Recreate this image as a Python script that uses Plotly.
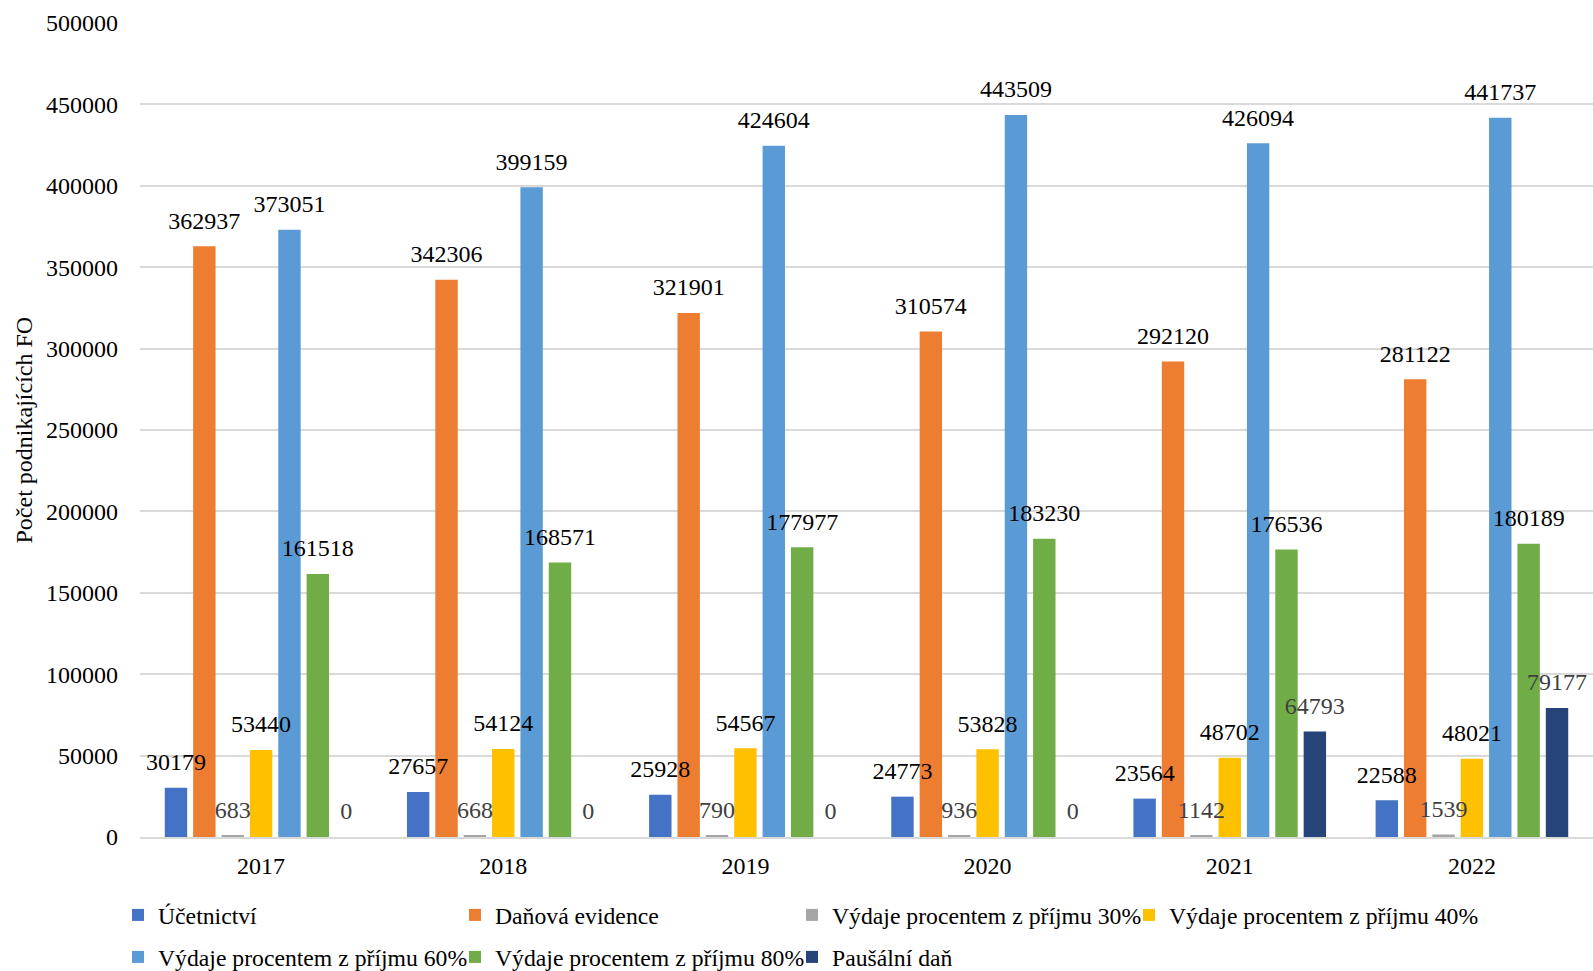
import plotly.graph_objects as go

years = ["2017", "2018", "2019", "2020", "2021", "2022"]
series_names = [
    "Účetnictví",
    "Daňová evidence",
    "Výdaje procentem z příjmu 30%",
    "Výdaje procentem z příjmu 40%",
    "Výdaje procentem z příjmu 60%",
    "Výdaje procentem z příjmu 80%",
    "Paušální daň",
]
ucetnictvi = [30179, 27657, 25928, 24773, 23564, 22588]
danova_evidence = [362937, 342306, 321901, 310574, 292120, 281122]
vydaje30 = [683, 668, 790, 936, 1142, 1539]
vydaje40 = [53440, 54124, 54567, 53828, 48702, 48021]
vydaje60 = [373051, 399159, 424604, 443509, 426094, 441737]
vydaje80 = [161518, 168571, 177977, 183230, 176536, 180189]
pausalni = [0, 0, 0, 0, 64793, 79177]

values = [ucetnictvi, danova_evidence, vydaje30, vydaje40, vydaje60, vydaje80, pausalni]
colors = ["#4472C4", "#ED7D31", "#A5A5A5", "#FFC000", "#5B9BD5", "#70AD47", "#264478"]
label_colors = ["#000000", "#000000", "#404040", "#000000", "#000000", "#000000", "#404040"]

FONT = "Liberation Serif"
GAP = 0.18
W, H = 1593, 971
ML, MR, MT, MB = 140, 0, 23, 134
PW, PH = W - ML - MR, H - MT - MB

# legend slot layout (pixel position of each entry's left edge, row offset below plot)
legend_px_x = [118, 455, 792, 1129, 118, 455, 792]
legend_px_below = [78, 78, 78, 78, 120, 120, 120]
legend_ids = ["legend"] + ["legend%d" % (k + 2) for k in range(6)]

fig = go.Figure()
for j, (name, vals, col) in enumerate(zip(series_names, values, colors)):
    fig.add_trace(go.Bar(
        name=name, x=years, y=vals,
        marker=dict(color=col, line=dict(width=0)),
        offsetgroup=str(j),
        legend=legend_ids[j],
    ))
for j, (name, vals, lcol) in enumerate(zip(series_names, values, label_colors)):
    fig.add_trace(go.Scatter(
        x=years, y=vals, mode="markers+text",
        text=[str(v) for v in vals],
        textposition="top center",
        marker=dict(size=17, opacity=0),
        textfont=dict(family=FONT, size=24, color=lcol),
        offsetgroup=str(j),
        showlegend=False, hoverinfo="skip", cliponaxis=False,
    ))

legends = {}
for lid, px, pb in zip(legend_ids, legend_px_x, legend_px_below):
    legends[lid] = dict(
        orientation="h", x=(px - ML) / PW, xanchor="left",
        y=-pb / PH, yanchor="middle",
        font=dict(family=FONT, size=23.7),
        itemwidth=30, bgcolor="rgba(0,0,0,0)",
    )

fig.update_layout(
    barmode="group",
    bargap=GAP,
    bargroupgap=0.21,
    scattermode="group",
    scattergap=GAP,
    width=W, height=H,
    paper_bgcolor="white", plot_bgcolor="white",
    margin=dict(l=ML, r=MR, t=MT, b=MB, autoexpand=False),
    font=dict(family=FONT, size=24, color="#000000"),
    yaxis=dict(
        range=[0, 500000], dtick=50000, tickformat="d",
        showgrid=True, gridcolor="#D9D9D9", gridwidth=1.5,
        zeroline=False, showline=False, ticks="",
        ticklabelstandoff=21, automargin=False,
        tickfont=dict(family=FONT, size=24),
    ),
    xaxis=dict(
        showline=True, linecolor="#D9D9D9", linewidth=1.5, ticks="",
        ticklabelstandoff=6, automargin=False,
        tickfont=dict(family=FONT, size=24),
    ),
    annotations=[dict(
        text="Počet podnikajících FO", textangle=-90,
        xref="paper", yref="paper", x=-116.5 / PW, y=0.5,
        xanchor="center", yanchor="middle", showarrow=False,
        font=dict(family=FONT, size=24, color="#000000"),
    )],
    **legends,
)

fig.write_html(
    "out.html",
    config={"displayModeBar": False},
    post_script="document.body.style.margin='0';document.body.style.overflow='hidden';",
)
